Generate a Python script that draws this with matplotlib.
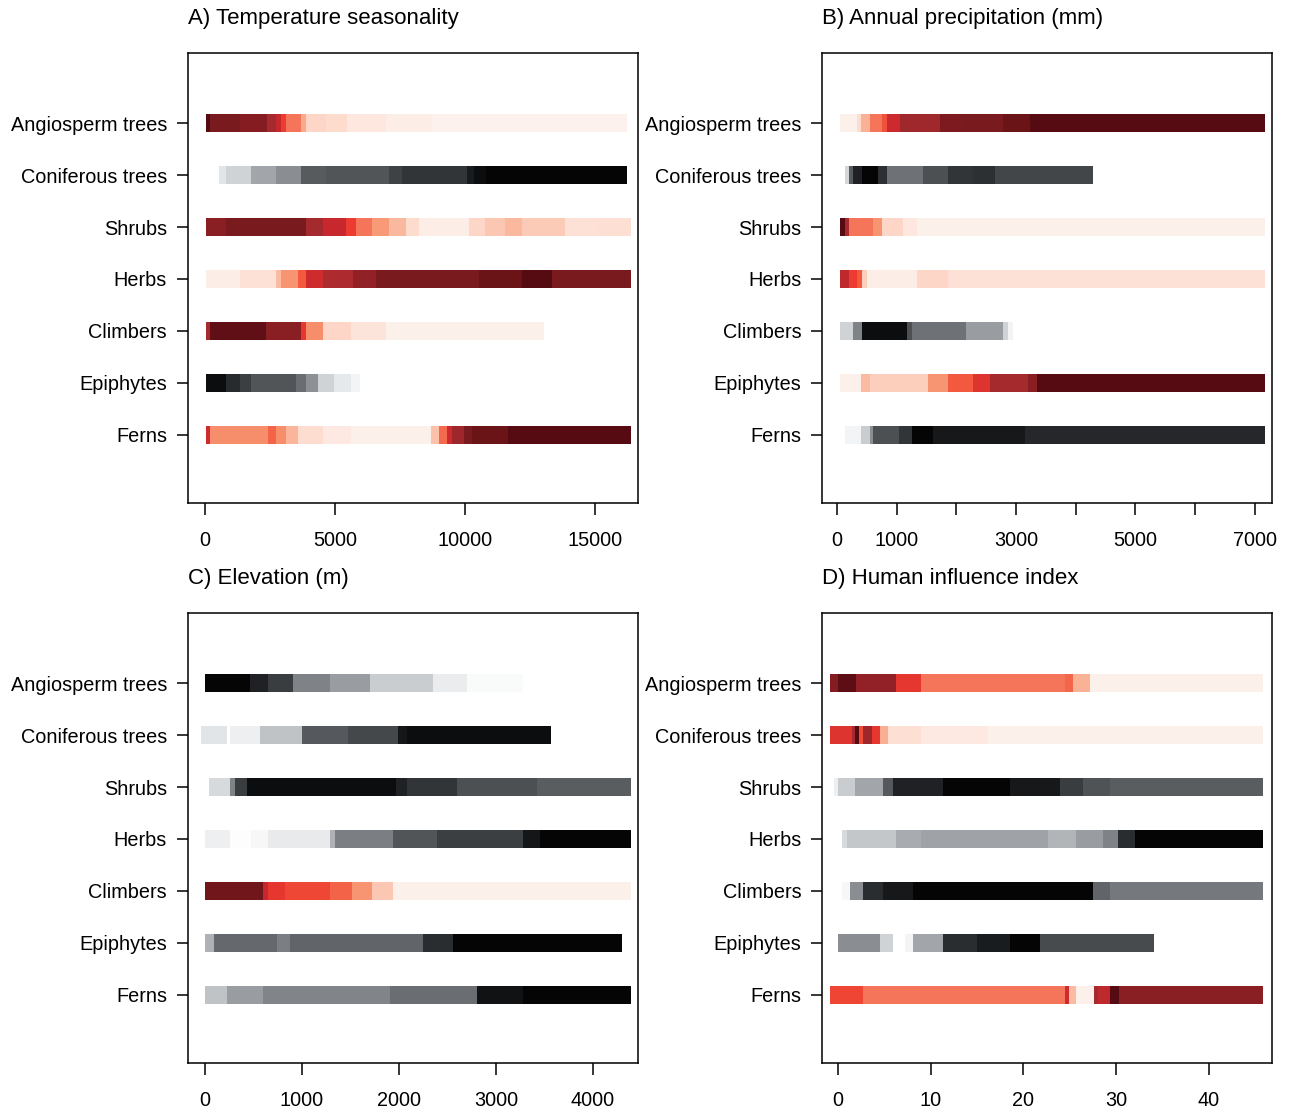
import numpy as np
import matplotlib
matplotlib.use("Agg")
import matplotlib.pyplot as plt
from matplotlib.colors import LinearSegmentedColormap

plt.rcParams['font.family'] = ['Liberation Sans', 'DejaVu Sans']

groups = ["Angiosperm trees", "Coniferous trees", "Shrubs", "Herbs",
          "Climbers", "Epiphytes", "Ferns"]

# A) temperature seasonality
temp_palette = ["red", "grey", "red", "red", "red", "grey", "red"]
temp_edges = [
    [40, 190, 1340, 2410, 2755, 2945, 3140, 3710, 3900, 4670, 5470, 6960, 8720, 16220],
    [540, 830, 1790, 2740, 3700, 4660, 7080, 7580, 10060, 10330, 10790, 16220],
    [40, 830, 3890, 4530, 5420, 5800, 6440, 7080, 7720, 8230, 10140, 10780, 11540, 12180, 13840, 15110, 16390],
    [40, 1340, 2740, 2930, 3570, 3890, 4530, 5680, 6570, 10520, 12180, 13330, 16390],
    [40, 190, 2360, 3700, 3890, 4530, 5610, 6950, 13050],
    [40, 830, 1340, 1790, 3510, 3890, 4340, 4970, 5610, 5970],
    [40, 220, 2420, 2740, 3130, 3570, 4530, 5610, 8680, 8990, 9310, 9500, 9950, 10270, 11670, 16390],
]
temp_levels = [
    [1.0, 0.9, 0.86, 0.78, 0.7, 0.6, 0.43, 0.3, 0.14, 0.12, 0.07, 0.04, 0.02],
    [0.12, 0.2, 0.37, 0.45, 0.67, 0.7, 0.78, 0.83, 0.92, 0.97, 1.0],
    [0.85, 0.9, 0.78, 0.7, 0.6, 0.43, 0.35, 0.25, 0.12, 0.04, 0.14, 0.2, 0.25, 0.18, 0.09, 0.1],
    [0.04, 0.09, 0.24, 0.36, 0.5, 0.68, 0.76, 0.83, 0.9, 0.94, 1.0, 0.9],
    [0.78, 0.97, 0.85, 0.62, 0.38, 0.14, 0.08, 0.03],
    [0.97, 0.87, 0.79, 0.7, 0.58, 0.44, 0.2, 0.1, 0.04],
    [0.68, 0.38, 0.48, 0.38, 0.26, 0.11, 0.06, 0.03, 0.22, 0.46, 0.68, 0.8, 0.9, 0.94, 1.0],
]

# B) annual precipitation
prec_palette = ["red", "grey", "red", "red", "grey", "red", "grey"]
prec_edges = [
    [50, 330, 410, 550, 750, 830, 1055, 1725, 2090, 2785, 3235, 7170],
    [135, 200, 275, 415, 690, 830, 1445, 1865, 2285, 2645, 4285],
    [50, 135, 200, 610, 750, 1110, 1335, 7170],
    [50, 200, 330, 415, 495, 1335, 1865, 7170],
    [50, 275, 415, 1165, 1250, 2155, 2785, 2870, 2945],
    [50, 395, 550, 1530, 1865, 2285, 2565, 3205, 3345, 7170],
    [135, 395, 550, 610, 1040, 1250, 1615, 3150, 7170],
]
prec_levels = [
    [0.03, 0.11, 0.27, 0.43, 0.53, 0.69, 0.79, 0.89, 0.9, 0.94, 1.0],
    [0.18, 0.67, 0.9, 1.0, 0.85, 0.57, 0.72, 0.83, 0.85, 0.76],
    [1.0, 0.78, 0.43, 0.36, 0.14, 0.07, 0.03],
    [0.72, 0.6, 0.5, 0.17, 0.04, 0.14, 0.09],
    [0.2, 0.5, 0.97, 0.72, 0.57, 0.4, 0.2, 0.05],
    [0.03, 0.24, 0.17, 0.36, 0.5, 0.64, 0.78, 0.85, 1.0],
    [0.04, 0.23, 0.45, 0.72, 0.83, 1.0, 0.93, 0.88],
]

# C) elevation
elev_palette = ["grey", "grey", "grey", "grey", "red", "grey", "grey"]
elev_edges = [
    [0, 465, 655, 910, 1290, 1700, 2355, 2700, 3280],
    [-40, 225, 260, 565, 1000, 1475, 1995, 2080, 3565],
    [40, 260, 310, 430, 1975, 2080, 2595, 3420, 4390],
    [0, 260, 480, 655, 1290, 1340, 1940, 2390, 3280, 3455, 4390],
    [0, 600, 655, 825, 1290, 1515, 1720, 1940, 4390],
    [0, 95, 740, 875, 2250, 2560, 4300],
    [0, 225, 600, 1905, 2805, 3280, 4390],
]
elev_levels = [
    [1.0, 0.9, 0.8, 0.5, 0.4, 0.23, 0.08, 0.02],
    [0.12, 0.0, 0.07, 0.27, 0.68, 0.75, 0.94, 0.97],
    [0.17, 0.5, 0.8, 0.97, 0.9, 0.83, 0.72, 0.66],
    [0.07, 0.01, 0.03, 0.09, 0.33, 0.52, 0.7, 0.79, 0.94, 1.0],
    [0.92, 0.7, 0.62, 0.56, 0.48, 0.36, 0.2, 0.03],
    [0.33, 0.6, 0.52, 0.62, 0.86, 1.0],
    [0.27, 0.4, 0.49, 0.58, 0.95, 1.0],
]

# D) human influence index
hii_palette = ["red", "red", "grey", "grey", "grey", "grey", "red"]
hii_edges = [
    [-0.85, 0.05, 2.0, 6.3, 9.0, 24.5, 25.4, 27.2, 45.8],
    [-0.85, 1.5, 1.85, 2.3, 2.75, 3.65, 4.55, 5.4, 9.0, 16.2, 45.8],
    [-0.45, 0.05, 1.85, 4.9, 5.95, 11.35, 18.55, 23.95, 26.45, 29.3, 45.8],
    [0.45, 0.95, 6.3, 9.0, 22.7, 25.7, 28.6, 30.2, 32.0, 45.8],
    [0.45, 1.35, 2.75, 4.9, 8.1, 27.5, 29.3, 45.8],
    [0.0, 4.55, 5.95, 7.2, 8.1, 11.35, 14.95, 18.55, 21.8, 34.05],
    [-0.85, 2.75, 24.5, 24.95, 25.7, 27.6, 28.05, 29.3, 30.35, 45.8],
]
hii_levels = [
    [0.86, 0.98, 0.83, 0.62, 0.43, 0.47, 0.27, 0.03],
    [0.64, 0.78, 1.0, 0.55, 0.8, 0.62, 0.28, 0.1, 0.06, 0.03],
    [0.07, 0.23, 0.37, 0.68, 0.9, 1.0, 0.93, 0.8, 0.71, 0.66],
    [0.17, 0.25, 0.35, 0.38, 0.32, 0.4, 0.5, 0.86, 1.0],
    [0.03, 0.45, 0.86, 0.93, 1.0, 0.62, 0.54],
    [0.45, 0.2, 0.0, 0.04, 0.37, 0.86, 0.92, 1.0, 0.74],
    [0.57, 0.43, 0.68, 0.24, 0.03, 0.78, 0.72, 1.0, 0.85],
]

titles = ["A) Temperature seasonality", "B) Annual precipitation (mm)",
          "C) Elevation (m)", "D) Human influence index"]
xticks = [[0, 5000, 10000, 15000],
          [0, 1000, 2000, 3000, 4000, 5000, 6000, 7000],
          [0, 1000, 2000, 3000, 4000],
          [0, 10, 20, 30, 40]]
xticklabels = [["0", "5000", "10000", "15000"],
               ["0", "1000", "", "3000", "", "5000", "", "7000"],
               ["0", "1000", "2000", "3000", "4000"],
               ["0", "10", "20", "30", "40"]]

reds = LinearSegmentedColormap.from_list("reds", [
    (0, '#fdf4ef'), (0.03, '#fcf0ea'), (0.07, '#fde6dd'), (0.13, '#fdd8c9'),
    (0.22, '#fbc1ab'), (0.3, '#f9a98b'), (0.37, '#f7926f'), (0.43, '#f4765a'),
    (0.5, '#f25a3f'), (0.6, '#ec3b30'), (0.7, '#c8282e'), (0.78, '#a42a2e'),
    (0.86, '#861c22'), (0.9, '#7a1a1e'), (0.94, '#6a1418'), (1.0, '#560b12')])
greys = LinearSegmentedColormap.from_list("greys", [
    (0, '#ffffff'), (0.04, '#f3f4f5'), (0.08, '#eaecee'), (0.12, '#e2e5e7'),
    (0.2, '#d0d3d6'), (0.27, '#c0c3c6'), (0.35, '#a8abaf'), (0.45, '#8a8d91'),
    (0.52, '#7b7e82'), (0.6, '#65686c'), (0.7, '#515558'), (0.8, '#3a3d40'),
    (0.86, '#2b2e31'), (0.93, '#17191b'), (1.0, '#050505')])
cmaps = {"red": reds, "grey": greys}

panels = [(temp_edges, temp_levels, temp_palette),
          (prec_edges, prec_levels, prec_palette),
          (elev_edges, elev_levels, elev_palette),
          (hii_edges, hii_levels, hii_palette)]
xlims = [(-640, 16640), (-251, 7286), (-175, 4464), (-1.72, 46.8)]
rects = [[0.1457, 0.5477, 0.3488, 0.4047], [0.6372, 0.5477, 0.3488, 0.4047],
         [0.1457, 0.0441, 0.3488, 0.4047], [0.6372, 0.0441, 0.3488, 0.4047]]

fig = plt.figure(figsize=(12.9, 11.12), dpi=100)
ypos = np.arange(len(groups), 0, -1)

for k, (edges, levels, palette) in enumerate(panels):
    ax = fig.add_axes(rects[k])
    for i in range(len(groups)):
        e = np.array(edges[i], dtype=float)
        cols = cmaps[palette[i]](np.array(levels[i]))
        ax.barh(np.full(len(levels[i]), ypos[i]), np.diff(e), left=e[:-1],
                height=0.35, color=cols, linewidth=0)
    ax.set_xlim(*xlims[k])
    ax.set_ylim(-0.31, 8.35)
    ax.set_yticks(ypos)
    ax.set_yticklabels(groups, fontsize=14.3)
    ax.set_xticks(xticks[k])
    ax.set_xticklabels(xticklabels[k], fontsize=14.3)
    ax.tick_params(axis='y', length=8, width=1.1, pad=7)
    ax.tick_params(axis='x', length=8.5, width=1.1, pad=11.5)
    for s in ax.spines.values():
        s.set_linewidth(1.1)
    ax.set_title(titles[k], loc='left', fontsize=16, pad=20.5)

fig.savefig("out.png", dpi=100)
